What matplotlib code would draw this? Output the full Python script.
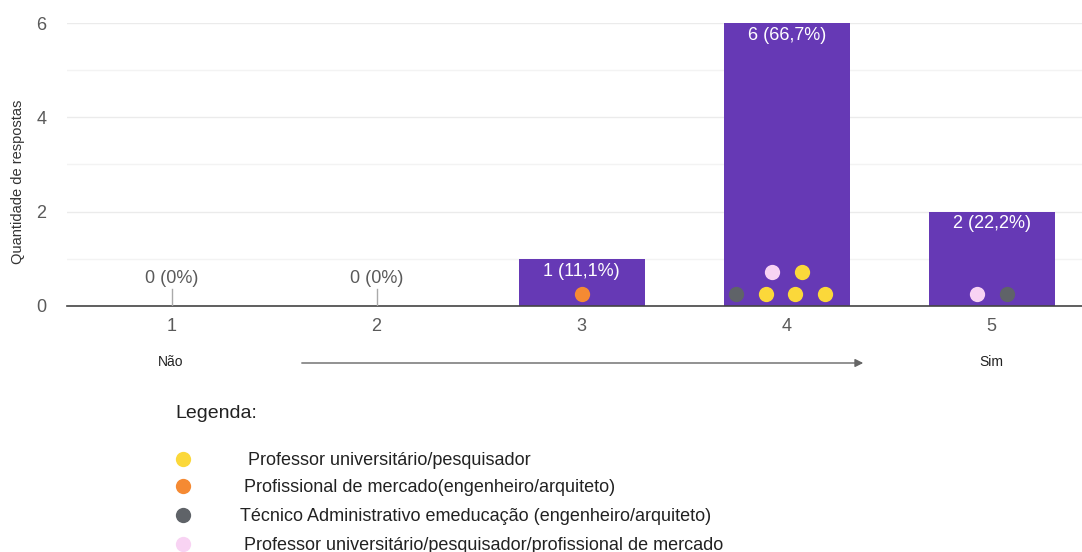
import numpy as np
import matplotlib
matplotlib.use("Agg")
import matplotlib.pyplot as plt

plt.rcParams['font.family'] = ['Liberation Sans', 'DejaVu Sans']

# dados
categorias = [1, 2, 3, 4, 5]
respostas = [0, 0, 1, 6, 2]
rotulos = ["0 (0%)", "0 (0%)", "1 (11,1%)", "6 (66,7%)", "2 (22,2%)"]

# perfis de quem respondeu, por barra (linha de baixo, linha de cima)
grupos = [
    "Professor universitário/pesquisador",
    "Profissional de mercado(engenheiro/arquiteto)",
    "Técnico Administrativo emeducação (engenheiro/arquiteto)",
    "Professor universitário/pesquisador/profissional de mercado",
]
cores_grupos = ["#fbd83a", "#f58a33", "#5f6368", "#f8d3f3"]
pontos_linha1 = {3: [1], 4: [2, 0, 0, 0], 5: [3, 2]}
pontos_linha2 = {4: [3, 0]}

COR_BARRA = "#6639b5"
COR_TEXTO = "#5a5a5a"

fig = plt.figure(figsize=(10.82, 5.52), dpi=100)
ax = fig.add_axes([0.0619, 0.4457, 0.9381, 0.5126])

ax.bar(categorias, respostas, width=0.615, color=COR_BARRA, zorder=2)

ax.set_xlim(0.49, 5.44)
ax.set_ylim(0, 6)
ax.set_yticks([0, 2, 4, 6])
ax.set_yticks([1, 3, 5], minor=True)
ax.grid(axis='y', which='major', color='#ebebeb', linewidth=1, zorder=0)
ax.grid(axis='y', which='minor', color='#f3f3f3', linewidth=1, zorder=0)
ax.set_xticks(categorias)
ax.tick_params(axis='both', which='both', length=0, labelsize=13, labelcolor=COR_TEXTO)
ax.tick_params(axis='x', pad=9)
ax.tick_params(axis='y', pad=15)
for lado in ['left', 'right', 'top']:
    ax.spines[lado].set_visible(False)
ax.spines['bottom'].set_color('#444444')
ax.spines['bottom'].set_linewidth(1.2)
ax.set_ylabel("Quantidade de respostas", fontsize=10.5, color='#333333')
ax.yaxis.set_label_coords(-0.041, 0.44)

# rótulos de valor
for x, v, r in zip(categorias, respostas, rotulos):
    if v == 0:
        ax.plot([x, x], [0, 0.35], color='#aaaaaa', lw=1, zorder=3)
        ax.text(x, 0.4, r, ha='center', va='bottom', fontsize=13, color=COR_TEXTO)
    else:
        ax.text(x, v - 0.08, r, ha='center', va='top', fontsize=13, color='white', zorder=4)

# pontos com o perfil dos respondentes
esp = 0.145
for linhas, y in ((pontos_linha1, 0.26), (pontos_linha2, 0.72)):
    for x, idx in linhas.items():
        n = len(idx)
        desloc = (np.arange(n) - (n - 1) / 2) * esp - (0.03 if n > 2 else 0)
        for dx, g in zip(desloc, idx):
            ax.plot(x + dx, y, 'o', ms=11, color=cores_grupos[g], mec='none', zorder=5)

# escala Não -> Sim
fig.text(171 / 1082, 1 - 362 / 552, "Não", ha='center', va='center', fontsize=10, color='#222222')
fig.text(991 / 1082, 1 - 362 / 552, "Sim", ha='center', va='center', fontsize=10, color='#222222')
fig.add_artist(matplotlib.patches.FancyArrowPatch(
    (299 / 1082, 1 - 363 / 552), (866 / 1082, 1 - 363 / 552),
    transform=fig.transFigure, arrowstyle='-|>', mutation_scale=12,
    color='#666666', lw=1))

# legenda
fig.text(175 / 1082, 1 - 413 / 552, "Legenda:", ha='left', va='center', fontsize=14, color='#222222')
leg_y = [459, 486, 515, 544]
leg_x = [248, 244, 240, 244]
for g, (yy, xx) in enumerate(zip(leg_y, leg_x)):
    fig.lines.append(matplotlib.lines.Line2D([183 / 1082], [1 - yy / 552], marker='o', ms=11,
                                             color=cores_grupos[g], mec='none',
                                             transform=fig.transFigure))
    fig.text(xx / 1082, 1 - (yy + 6) / 552, grupos[g], ha='left', va='baseline', fontsize=13, color='#222222')

fig.savefig("out.png", dpi=100, facecolor='white')
